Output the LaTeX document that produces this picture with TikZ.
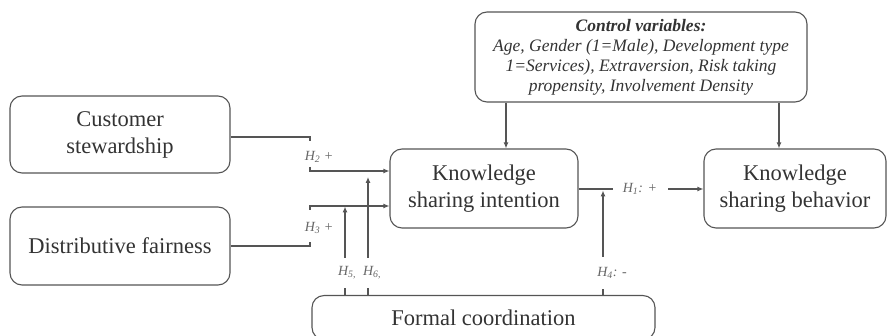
\documentclass[tikz,border=0pt]{standalone}
\usepackage{fontspec}
\setmainfont{Liberation Serif}
\usepackage{xcolor}
\usetikzlibrary{calc,arrows.meta}
\definecolor{edge}{HTML}{555555}
\definecolor{ink}{HTML}{333333}
\definecolor{hlab}{HTML}{666666}
\newcommand{\hyp}[2]{\textit{H\textsubscript{#1}#2}}
\begin{document}
\begin{tikzpicture}[x=1pt,y=-1pt,
  box/.style={draw=edge,line width=1.1pt,rounded corners=12pt,align=center,text=ink,
    font=\fontsize{22.5}{27}\selectfont,inner sep=0pt},
  ln/.style={draw=edge,line width=1.1pt},
  arr/.style={ln,-{Latex[length=6pt,width=5pt]}},
  hl/.style={text=hlab,font=\fontsize{14}{15}\selectfont,inner sep=1pt}]
\useasboundingbox (0,0) rectangle (887,336);
% boxes
\node[box,minimum width=220pt,minimum height=77pt] (cs) at (120,134.5) {Customer\\stewardship};
\node[box,minimum width=220pt,minimum height=78pt] (df) at (120,246) {Distributive fairness};
\node[box,minimum width=188pt,minimum height=79pt] (ksi) at (484,188.5) {Knowledge\\sharing intention};
\node[box,minimum width=182pt,minimum height=79pt] (ksb) at (795,188.5) {Knowledge\\sharing behavior};
\node[box,minimum width=343pt,minimum height=44pt,anchor=north] (fc) at (483.5,295) {Formal coordination};
\node[box,minimum width=332pt,minimum height=90pt,font=\fontsize{17.5}{20}\selectfont\itshape] (cv) at (641,57)
  {\textbf{Control variables:}\\Age, Gender (1=Male), Development type\\1=Services), Extraversion, Risk taking\\propensity, Involvement Density};
% hypothesis labels
\node[hl] (h2) at (319,157) {\hyp{2}{ +}};
\node[hl] (h3) at (319,228) {\hyp{3}{ +}};
\node[hl] (h5) at (347,273) {\hyp{5,}{}};
\node[hl] (h6) at (372,273) {\hyp{6,}{}};
\node[hl] (h4) at (612,273) {\hyp{4}{: -}};
\node[hl] (h1) at (640,189) {\hyp{1}{: +}};
% paths
\draw[ln] ([yshift=-2.5pt]cs.east) -- (310,137) -- (310,141);
\draw[arr] (310,167) -- (310,171) -- ([yshift=17.5pt]ksi.west);
\draw[ln] (df.east) -- (310,246) -- (310,242);
\draw[arr] (310,210) -- (310,206) -- ([yshift=-17.5pt]ksi.west);
\draw[ln] ([xshift=-138.5pt]fc.north) -- ++(0,-7);
\draw[arr] (345,258) -- (345,206.5);
\draw[ln] ([xshift=-115.5pt]fc.north) -- ++(0,-7);
\draw[arr] (368,258) -- (368,177);
\draw[ln] ([xshift=119.5pt]fc.north) -- ++(0,-6);
\draw[arr] (603,257) -- (603,190.5);
\draw[ln] (ksi.east |- h1) -- (613,189);
\draw[arr] (668,189) -- (ksb.west |- h1);
\draw[arr] ([xshift=22pt]ksi.north |- cv.south) -- ([xshift=22pt]ksi.north);
\draw[arr] ([xshift=-16pt]ksb.north |- cv.south) -- ([xshift=-16pt]ksb.north);
\end{tikzpicture}
\end{document}
